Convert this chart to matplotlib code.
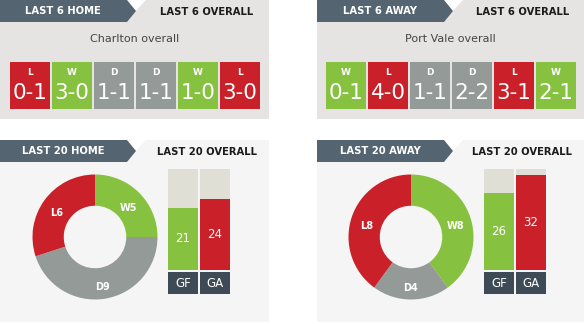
import matplotlib
matplotlib.use("Agg")
import matplotlib.pyplot as plt
from matplotlib.patches import Polygon, Rectangle

W, H = 584, 324

# ---------------- data ----------------
teams = ["Charlton overall", "Port Vale overall"]
tab6_left = ["LAST 6 HOME", "LAST 6 AWAY"]
tab6_right = ["LAST 6 OVERALL", "LAST 6 OVERALL"]
tab20_left = ["LAST 20 HOME", "LAST 20 AWAY"]
tab20_right = ["LAST 20 OVERALL", "LAST 20 OVERALL"]

charlton_results = ["L", "W", "D", "D", "W", "L"]
charlton_scores = ["0-1", "3-0", "1-1", "1-1", "1-0", "3-0"]
portvale_results = ["W", "L", "D", "D", "L", "W"]
portvale_scores = ["0-1", "4-0", "1-1", "2-2", "3-1", "2-1"]

donut_labels = ["W", "D", "L"]
charlton_wdl = [5, 9, 6]
portvale_wdl = [8, 4, 8]

goal_labels = ["GF", "GA"]
charlton_goals = [21, 24]
portvale_goals = [26, 32]

# ---------------- style ----------------
RED = "#c9202a"
GREEN = "#86c23f"
GRAY = "#939a97"
TOP_BG = "#e5e4e2"
BOT_BG = "#f5f5f5"
TAB_DARK = "#546470"
TRACK = "#e0dfd6"
LBL_DARK = "#3e4a55"
res_color = {"W": GREEN, "D": GRAY, "L": RED}
wdl_colors = [GREEN, GRAY, RED]

fig = plt.figure(figsize=(W / 100, H / 100), dpi=100)
fig.patch.set_facecolor("white")
ax = fig.add_axes([0, 0, 1, 1])
ax.set_xlim(0, W)
ax.set_ylim(H, 0)
ax.axis("off")


def px_axes(x, y, w, h):
    return fig.add_axes([x / W, 1 - (y + h) / H, w / W, h / H])


def tab(x0, y0, left_text, right_text, right_cx, panel_w):
    # notch white triangle + dark arrow tab
    ax.add_patch(Polygon([(x0 + 127, y0), (x0 + 146, y0), (x0 + 134, y0 + 13)],
                         closed=True, color="white", lw=0, zorder=2))
    ax.add_patch(Polygon([(x0, y0), (x0 + 127, y0), (x0 + 136, y0 + 11),
                          (x0 + 127, y0 + 22), (x0, y0 + 22)],
                         closed=True, color=TAB_DARK, lw=0, zorder=3))
    ax.text(x0 + 63, y0 + 11.5, left_text, color="white", fontsize=7.2,
            fontweight="bold", ha="center", va="center", zorder=4)
    ax.text(right_cx, y0 + 12, right_text, color="#1b1b1b", fontsize=7.2,
            fontweight="semibold", ha="center", va="center", zorder=4)


panels = [(0, 269), (317, 267)]
for k, (x0, pw) in enumerate(panels):
    # ---- top panel ----
    ax.add_patch(Rectangle((x0, 0), pw, 119, color=TOP_BG, lw=0, zorder=1))
    right_cx = x0 + 207 if k == 0 else x0 + 206
    tab(x0, 0, tab6_left[k], tab6_right[k], right_cx, pw)
    ax.text(x0 + pw / 2, 39, teams[k], color="#444444", fontsize=8,
            ha="center", va="center", zorder=4)
    results = charlton_results if k == 0 else portvale_results
    scores = charlton_scores if k == 0 else portvale_scores
    bx0 = x0 + 10 if k == 0 else x0 + 9
    xs = [bx0 + i * 42 for i in range(len(results))]
    ax.bar(xs, [47] * len(results), bottom=62, width=40, align="edge",
           color=[res_color[r] for r in results], lw=0, zorder=3)
    for xx, r, s in zip(xs, results, scores):
        ax.text(xx + 20, 72.5, r, color="white", fontsize=6.5, fontweight="bold",
                ha="center", va="center", zorder=4)
        ax.text(xx + 20, 93, s, color="white", fontsize=15.5,
                ha="center", va="center", zorder=4)

    # ---- bottom panel ----
    ax.add_patch(Rectangle((x0, 140), pw, 182, color=BOT_BG, lw=0, zorder=1))
    right_cx = x0 + 207 if k == 0 else x0 + 205
    tab(x0, 140, tab20_left[k], tab20_right[k], right_cx, pw)

    wdl = charlton_wdl if k == 0 else portvale_wdl
    cx = x0 + 95 if k == 0 else x0 + 94
    cy = 237
    R = 62.5
    dax = px_axes(cx - R, cy - R, 2 * R, 2 * R)
    wedges, _ = dax.pie(wdl, colors=wdl_colors, startangle=90, counterclock=False,
                        radius=1.0, wedgeprops=dict(width=0.5, linewidth=0))
    dax.set_xlim(-1, 1)
    dax.set_ylim(-1, 1)
    dax.set_aspect("equal")
    dax.axis("off")
    total = sum(wdl)
    start = 90.0
    import math
    for lab, v in zip(donut_labels, wdl):
        ang = math.radians(start - 360.0 * v / total / 2)
        dax.text(0.75 * math.cos(ang), 0.75 * math.sin(ang) - 0.06, f"{lab}{v}",
                 color="white", fontsize=7, fontweight="bold",
                 ha="center", va="center")
        start -= 360.0 * v / total

    goals = charlton_goals if k == 0 else portvale_goals
    track = max(charlton_goals + portvale_goals) + 2
    gx = x0 + 168 if k == 0 else x0 + 167
    bax = px_axes(gx, 169, 62, 101)
    bax.set_xlim(0, 62)
    bax.set_ylim(0, track)
    bax.axis("off")
    pos = [0, 32]
    bax.bar(pos, [track, track], width=30, align="edge", color=TRACK, lw=0)
    bax.bar(pos, goals, width=30, align="edge", color=[GREEN, RED], lw=0)
    for p, g in zip(pos, goals):
        bax.text(p + 15, g / 2, str(g), color="white", fontsize=8.5,
                 ha="center", va="center")
    for p, lab in zip(pos, goal_labels):
        ax.add_patch(Rectangle((gx + p, 272), 30, 22, color=LBL_DARK, lw=0, zorder=3))
        ax.text(gx + p + 15, 283.5, lab, color="white", fontsize=8.5,
                ha="center", va="center", zorder=4)

fig.savefig("out.png", dpi=100, facecolor="white")
